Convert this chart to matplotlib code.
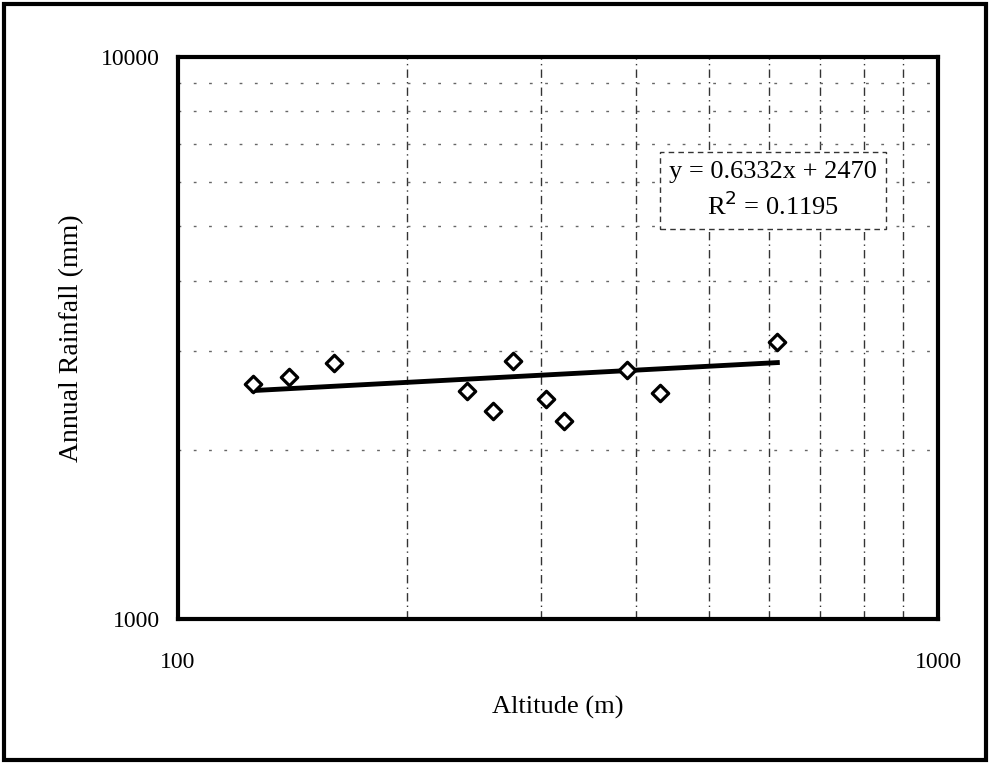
import numpy as np
import matplotlib.pyplot as plt
from matplotlib.patches import Rectangle
from matplotlib.ticker import FixedLocator, NullFormatter

plt.rcParams['font.family'] = ['Liberation Serif', 'DejaVu Serif']

# station altitude (m) and annual rainfall (mm)
altitude = [125.6, 140.1, 160.2, 240.1, 259.9, 276.2, 305.3, 321.6, 389.5, 430.6, 614.6]
rainfall = [2615, 2691, 2849, 2541, 2342, 2872, 2459, 2247, 2769, 2520, 3117]

slope = 0.6332
intercept = 2470
r_squared = 0.1195

fig = plt.figure(figsize=(9.9, 7.64), dpi=100)
ax = fig.add_axes([0.1798, 0.1898, 0.9475 - 0.1798, 0.9254 - 0.1898])

ax.set_xscale('log')
ax.set_yscale('log')
ax.set_xlim(100, 1000)
ax.set_ylim(1000, 10000)

ax.xaxis.set_major_locator(FixedLocator([100, 1000]))
ax.yaxis.set_major_locator(FixedLocator([1000, 10000]))
ax.xaxis.set_minor_locator(FixedLocator(np.arange(200, 1000, 100)))
ax.yaxis.set_minor_locator(FixedLocator(np.arange(2000, 10000, 1000)))
ax.xaxis.set_minor_formatter(NullFormatter())
ax.yaxis.set_minor_formatter(NullFormatter())
ax.set_xticklabels(['100', '1000'])
ax.set_yticklabels(['1000', '10000'])
ax.tick_params(which='both', length=0, labelsize=17)
ax.tick_params(axis='x', pad=24)
ax.tick_params(axis='y', pad=13)

ax.grid(which='minor', axis='x', color='#333333', linestyle=(0, (6, 3, 1, 3)), linewidth=1.0)
ax.grid(which='minor', axis='y', color='#666666', linestyle=(0, (2, 9)), linewidth=1.0)

for s in ax.spines.values():
    s.set_linewidth(3)

# linear fit, drawn as a straight segment between the end stations
xf = np.array([min(altitude), max(altitude)])
ax.plot(xf, slope * xf + intercept, color='black', linewidth=3.5, zorder=3)

ax.scatter(altitude, rainfall, marker='D', s=70, facecolors='white',
           edgecolors='black', linewidths=2.3, zorder=4)

ax.text(0.783, 0.763,
        'y = %.4fx + %d\nR$^2$ = %.4f' % (slope, intercept, r_squared),
        transform=ax.transAxes, ha='center', va='center', fontsize=19,
        linespacing=1.35, zorder=5,
        bbox=dict(boxstyle='square,pad=0.35', facecolor='white',
                  edgecolor='#333333', linestyle=(0, (4, 3)), linewidth=1))

ax.set_xlabel('Altitude (m)', fontsize=19, labelpad=16)
ax.set_ylabel('Annual Rainfall (mm)', fontsize=20, labelpad=12)

fig.patches.append(Rectangle((0.004, 0.005), 0.992, 0.99, transform=fig.transFigure,
                             fill=False, edgecolor='black', linewidth=3))

fig.savefig('out.png', dpi=100)
